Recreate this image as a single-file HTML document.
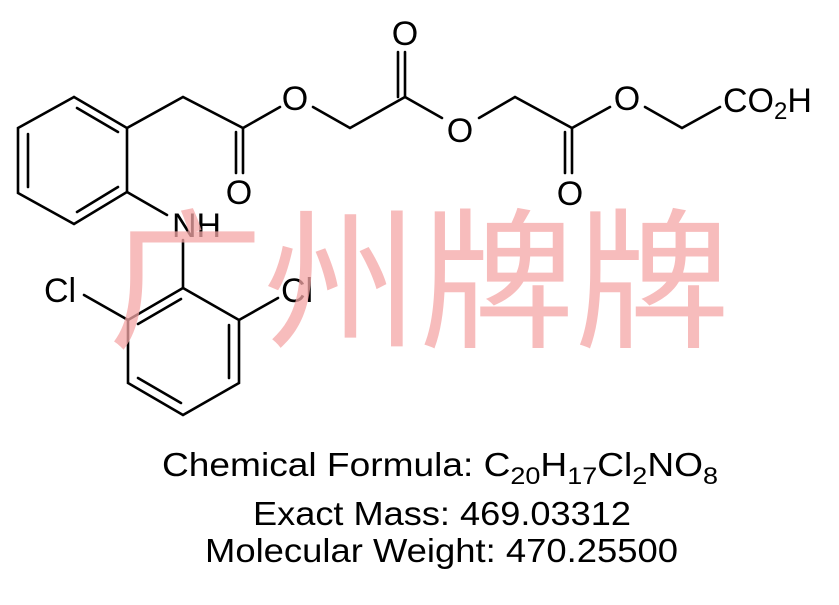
<!DOCTYPE html>
<html><head><meta charset="utf-8"><style>html,body{margin:0;padding:0;background:#fff}</style></head>
<body>
<svg width="839" height="600" viewBox="0 0 839 600" xmlns="http://www.w3.org/2000/svg">
<rect width="839" height="600" fill="#fff"/>
<g stroke="#000" stroke-width="2.6" fill="none" stroke-linecap="round">
<polyline points="74,97 127,128 127,192 74,224 18,193 18,128 74,97"/>
<line x1="77" y1="108" x2="118" y2="132"/>
<line x1="118" y1="187" x2="77" y2="212"/>
<line x1="28" y1="134" x2="28" y2="187"/>
<polyline points="127,128 183,97 243,128 280,107"/>
<line x1="243" y1="128" x2="243" y2="173"/>
<line x1="236" y1="132" x2="236" y2="173"/>
<polyline points="313,107 350,128 405,97 442,118"/>
<line x1="405" y1="97" x2="405" y2="52"/>
<line x1="398" y1="97" x2="398" y2="52"/>
<polyline points="479,118 515,97 572,128 610,107"/>
<line x1="572" y1="128" x2="572" y2="173"/>
<line x1="565" y1="132" x2="565" y2="173"/>
<polyline points="645,107 682,128 720,107"/>
<line x1="127" y1="192" x2="167" y2="215"/>
<line x1="183" y1="240" x2="183" y2="288"/>
<polyline points="183,288 239,320 239,383 183,415 128,383 128,320 183,288"/>
<line x1="181" y1="299" x2="138" y2="324"/>
<line x1="229" y1="325" x2="229" y2="378"/>
<line x1="138" y1="378" x2="181" y2="403"/>
<line x1="128" y1="320" x2="84" y2="295"/>
<line x1="239" y1="320" x2="278" y2="298"/>
</g>
<g font-family="Liberation Sans, Arial, sans-serif" font-size="34" fill="#000">
<text x="239" y="204" text-anchor="middle">O</text>
<text x="295" y="110" text-anchor="middle">O</text>
<text x="405" y="45" text-anchor="middle">O</text>
<text x="460" y="142" text-anchor="middle">O</text>
<text x="570" y="205" text-anchor="middle">O</text>
<text x="627" y="110" text-anchor="middle">O</text>
<text x="723" y="112">CO<tspan font-size="24" dy="7">2</tspan><tspan dy="-7">H</tspan></text>
<text x="172" y="237">NH</text>
<text x="44" y="302">Cl</text>
<text x="281" y="302">Cl</text>
</g>
<text x="108" y="336" textLength="622" lengthAdjust="spacingAndGlyphs" font-family="Noto Sans CJK SC, WenQuanYi Zen Hei, sans-serif" font-size="152" fill="#f4a6a6" fill-opacity="0.75">广州牌牌</text>
<g font-family="Liberation Sans, Arial, sans-serif" font-size="33" fill="#000">
<text x="162" y="476" textLength="556" lengthAdjust="spacingAndGlyphs">Chemical Formula: C<tspan font-size="24" dy="8">20</tspan><tspan dy="-8">H</tspan><tspan font-size="24" dy="8">17</tspan><tspan dy="-8">Cl</tspan><tspan font-size="24" dy="8">2</tspan><tspan dy="-8">NO</tspan><tspan font-size="24" dy="8">8</tspan></text>
<text x="253" y="525" textLength="378" lengthAdjust="spacingAndGlyphs">Exact Mass: 469.03312</text>
<text x="205" y="562" textLength="473" lengthAdjust="spacingAndGlyphs">Molecular Weight: 470.25500</text>
</g>
</svg>
</body></html>
